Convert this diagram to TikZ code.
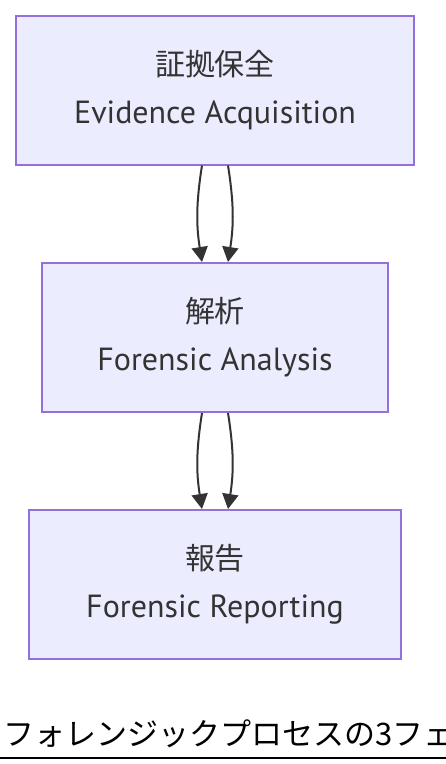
\documentclass[tikz,border=0pt]{standalone}
\usepackage{fontspec}
\setmainfont{PT Sans}
\newfontfamily\cjk{Noto Sans CJK JP}
\usepackage{xcolor}
\usetikzlibrary{arrows.meta}
\definecolor{boxfill}{HTML}{ECECFF}
\definecolor{boxline}{HTML}{9370DB}
\definecolor{ink}{HTML}{333333}

\begin{document}
\begin{tikzpicture}[x=1pt, y=-1pt,
  phase/.style={rectangle, draw=boxline, fill=boxfill, line width=2pt, minimum height=149pt, inner sep=0pt, align=center, text=ink, font=\fontsize{32}{48}\selectfont},
  flow/.style={-{Triangle[length=15pt, width=16pt]}, draw=ink, line width=2pt}]

\useasboundingbox (0, 0) rectangle (446, 764);

% Nodes 
\node[phase, minimum width=398pt] at (215, 90) (acq) {{\cjk\fontsize{30}{48}\selectfont 証拠保全}\\Evidence Acquisition} ; 
\node[phase, minimum width=346pt] at (215, 337.5) (ana) {{\cjk\fontsize{30}{48}\selectfont 解析}\\Forensic Analysis} ; 
\node[phase, minimum width=372pt] at (215, 584.5) (rep) {{\cjk\fontsize{30}{48}\selectfont 報告}\\Forensic Reporting} ; 
\node[anchor=base west, inner sep=0pt, font=\cjk\fontsize{31}{31}\selectfont] at (3, 745) (cap) {フォレンジックプロセスの3フェ} ;

% Lines 
\draw[flow] ([xshift=-13pt]acq.south) to[bend right=9] ([xshift=-13pt]ana.north) ; 
\draw[flow] ([xshift=13pt]acq.south) to[bend left=9] ([xshift=13pt]ana.north) ; 
\draw[flow] ([xshift=-13pt]ana.south) to[bend right=9] ([xshift=-13pt]rep.north) ; 
\draw[flow] ([xshift=13pt]ana.south) to[bend left=9] ([xshift=13pt]rep.north) ; 
\draw[line width=2pt] (0, 758) -- (446, 758) ;

\end{tikzpicture}
\end{document}
